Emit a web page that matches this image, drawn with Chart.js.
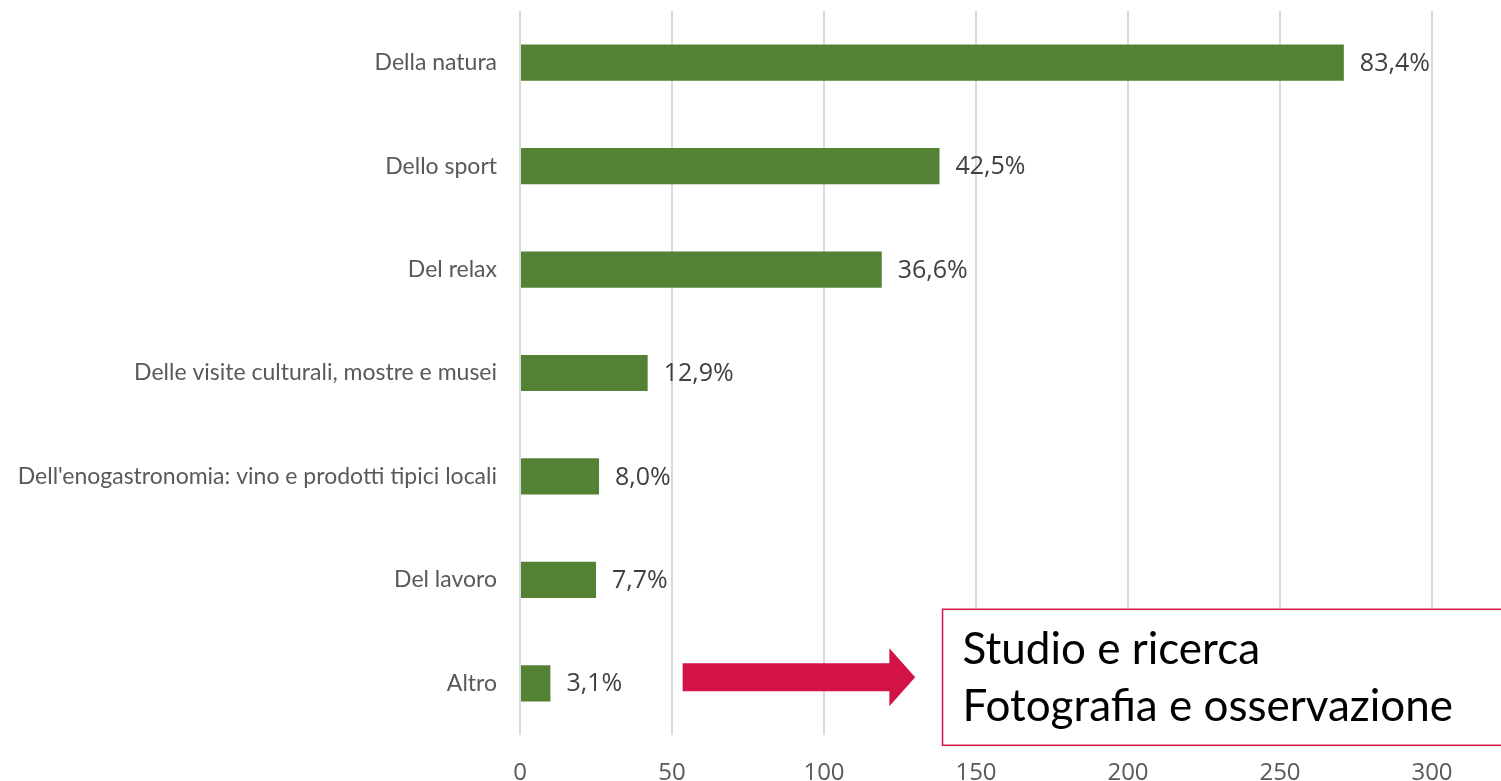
<!DOCTYPE html>
<html>
<head>
<meta charset="utf-8">
<script src="https://cdn.jsdelivr.net/npm/chart.js@4.4.0/dist/chart.umd.min.js"></script>
<style>
  html, body { margin: 0; padding: 0; background: #ffffff; }
  #wrap { width: 1501px; height: 781px; position: relative; }
</style>
</head>
<body>
<div id="wrap"><canvas id="chart" width="1501" height="781"></canvas></div>
<script>
// Categories and values
const categories = [
    'Della natura',
    'Dello sport',
    'Del relax',
    'Delle visite culturali, mostre e musei',
    "Dell'enogastronomia: vino e prodotti tipici locali",
    'Del lavoro',
    'Altro'
];
const counts = [271, 138, 119, 42, 26, 25, 10];
const percentLabels = ['83,4%', '42,5%', '36,6%', '12,9%', '8,0%', '7,7%', '3,1%'];
const xTicks = [0, 50, 100, 150, 200, 250, 300];
const noteLines = ['Studio e ricerca', 'Fotografia e osservazione'];

const LABEL_FONT = 'Lato, "Open Sans", sans-serif';
const NUM_FONT = '"Open Sans", "Noto Sans", sans-serif';

// Draw the percentage next to each bar
const valueLabels = {
    id: 'valueLabels',
    afterDatasetsDraw(chart) {
        const ctx = chart.ctx;
        const meta = chart.getDatasetMeta(0);
        ctx.save();
        ctx.font = '25px ' + NUM_FONT;
        ctx.fillStyle = '#404040';
        ctx.textAlign = 'left';
        ctx.textBaseline = 'middle';
        meta.data.forEach((bar, i) => {
            ctx.fillText(percentLabels[i], bar.x + 16, bar.y + 1);
        });
        ctx.restore();
    }
};

// Red arrow and note box beside "Altro"
const noteBox = {
    id: 'noteBox',
    afterDraw(chart) {
        const ctx = chart.ctx;
        const x = chart.scales.x;
        const meta = chart.getDatasetMeta(0);
        const rowY = meta.data[meta.data.length - 1].y - 6;

        // arrow
        const x0 = x.getPixelForValue(53.5);
        const xh = x.getPixelForValue(121.5);
        const xt = x.getPixelForValue(130);
        ctx.save();
        ctx.fillStyle = '#d31245';
        ctx.beginPath();
        ctx.moveTo(x0, rowY - 14);
        ctx.lineTo(xh, rowY - 14);
        ctx.lineTo(xh, rowY - 29);
        ctx.lineTo(xt, rowY);
        ctx.lineTo(xh, rowY + 29);
        ctx.lineTo(xh, rowY + 14);
        ctx.lineTo(x0, rowY + 14);
        ctx.closePath();
        ctx.fill();

        // box
        const bx = x.getPixelForValue(139);
        const by = rowY - 68;
        ctx.fillStyle = '#ffffff';
        ctx.fillRect(bx, by, chart.width - bx + 5, 136);
        ctx.strokeStyle = '#d31245';
        ctx.lineWidth = 1.5;
        ctx.strokeRect(bx, by, chart.width - bx + 5, 136);

        // text
        ctx.fillStyle = '#000000';
        ctx.font = '44px ' + LABEL_FONT;
        ctx.textAlign = 'left';
        ctx.textBaseline = 'alphabetic';
        ctx.fillText(noteLines[0], bx + 20, by + 55);
        ctx.fillText(noteLines[1], bx + 20, by + 112);
        ctx.restore();
    }
};

new Chart(document.getElementById('chart'), {
    type: 'bar',
    data: {
        labels: categories,
        datasets: [{
            data: counts,
            backgroundColor: '#548235',
            borderWidth: 0,
            categoryPercentage: 1,
            barPercentage: 0.35
        }]
    },
    options: {
        indexAxis: 'y',
        responsive: false,
        animation: false,
        layout: { padding: { top: 11, right: 69, left: 0, bottom: 0 } },
        plugins: {
            legend: { display: false },
            tooltip: { enabled: false }
        },
        scales: {
            x: {
                min: 0,
                max: 300,
                afterBuildTicks(scale) {
                    scale.ticks = xTicks.map(v => ({ value: v }));
                },
                afterFit(scale) {
                    scale.height = 46;
                    scale.paddingLeft = 0;
                    scale.paddingRight = 0;
                },
                grid: { color: '#d9d9d9', lineWidth: 2, drawTicks: false },
                border: { display: false },
                ticks: {
                    color: '#595959',
                    font: { family: NUM_FONT, size: 24 },
                    padding: 24
                }
            },
            y: {
                afterFit(scale) {
                    scale.width = 520;
                    scale.paddingTop = 0;
                    scale.paddingBottom = 0;
                },
                grid: { display: false, drawTicks: false },
                border: { display: false },
                ticks: {
                    color: '#595959',
                    font: { family: LABEL_FONT, size: 23 },
                    padding: 23
                }
            }
        }
    },
    plugins: [valueLabels, noteBox]
});
</script>
</body>
</html>
